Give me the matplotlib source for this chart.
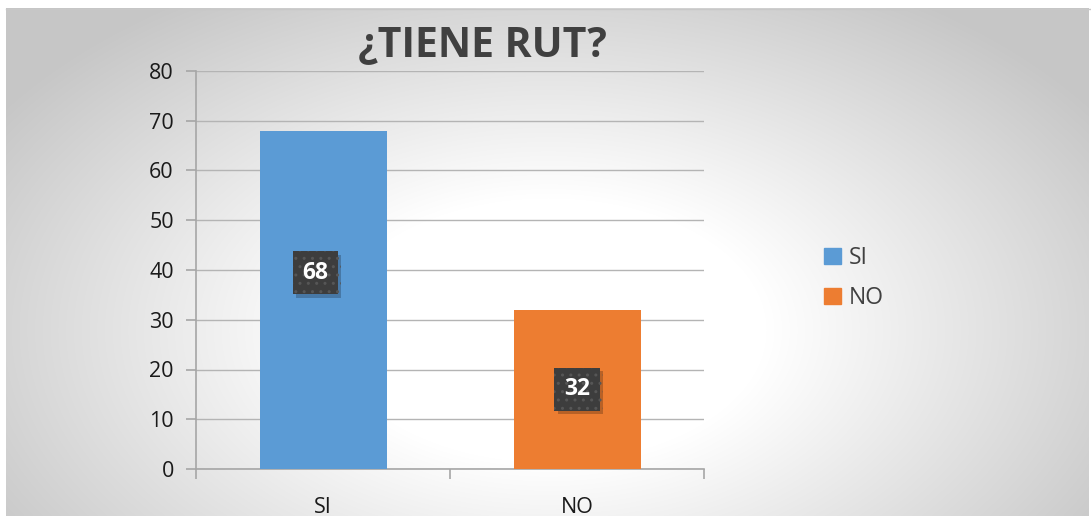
import numpy as np
import matplotlib.pyplot as plt
from matplotlib.patches import Rectangle
import matplotlib.patheffects as pe

categorias = ["SI", "NO"]
valores = [68, 32]
colores = ["#5B9BD5", "#ED7D31"]
# posicion de las etiquetas (fraccion de la barra), la de SI fue movida a mano
pos_etiqueta = [0.58, 0.5]
desp_etiqueta = [-0.03, 0.0]
yticks = list(range(0, 90, 10))

plt.rcParams['font.family'] = ['Open Sans', 'DejaVu Sans']

fig = plt.figure(figsize=(10.91, 5.16), dpi=100)

# Fondo con degradado radial
fondo = fig.add_axes([0, 0, 1, 1], zorder=-10)
H, W = 516, 1091
yy, xx = np.mgrid[0:H, 0:W]
dx = (xx - 548) / 545.0
dy = (yy - 330) / 330.0
r = np.sqrt(dx**2 + dy**2)
v = 1 - 0.22 * np.clip((r - 0.4) / 0.8, 0, 1)
img = np.dstack([v, v, v])
img[:8, :] = 1.0
img[:, :6] = 1.0
img[:, 1089:] = 1.0
fondo.imshow(img, extent=[0, 1, 0, 1], aspect='auto', origin='upper')
fondo.plot([6 / W, 1], [1 - 8.5 / H, 1 - 8.5 / H], color="#c8c8c8", lw=1)
fondo.set_xlim(0, 1)
fondo.set_ylim(0, 1)
fondo.axis('off')

ax = fig.add_axes([196 / W, 1 - 469 / H, 508 / W, 398 / H])
ax.patch.set_alpha(0)
x = np.arange(len(categorias))
ax.bar(x, valores, width=0.5, color=colores, zorder=3)
ax.set_xlim(-0.5, 1.5)
ax.set_ylim(0, 80)
ax.set_yticks(yticks)
ax.yaxis.grid(True, color="#b4b4b4", lw=1, zorder=0)
ax.set_xticks([-0.5, 0.5, 1.5])
ax.set_xticklabels([])
ax.set_xticks(x, minor=True)
ax.set_xticklabels(categorias, minor=True, fontsize=15.5, color="#1a1a1a")
ax.tick_params(axis='x', which='major', length=7, color="#a6a6a6", width=1.2)
ax.tick_params(axis='x', which='minor', length=0, pad=20)
ax.tick_params(axis='y', length=7, color="#a6a6a6", width=1.2, labelsize=15.5,
               labelcolor="#1a1a1a", pad=9)
for lado in ["top", "right"]:
    ax.spines[lado].set_visible(False)
for lado in ["left", "bottom"]:
    ax.spines[lado].set_color("#a6a6a6")
    ax.spines[lado].set_linewidth(1.2)

# Etiquetas de datos en cajas oscuras con puntos y sombra
for i, val in enumerate(valores):
    xe = x[i] + desp_etiqueta[i]
    ye = val * pos_etiqueta[i]
    t = ax.text(xe, ye, str(val), ha='center', va='center', fontsize=16.5, fontweight='bold',
                color='white', zorder=6,
                bbox=dict(boxstyle='square,pad=0.42', fc='#3d3d3d', ec='#565656', lw=0, hatch='..'))
    t.get_bbox_patch().set_path_effects([
        pe.SimplePatchShadow(offset=(2.5, -2.5), shadow_rgbFace='black', alpha=0.22),
        pe.Normal()])

fig.text(482 / W, 1 - 46 / H, "¿TIENE RUT?", ha='center', va='center', fontsize=29.5,
         fontweight='bold', color="#404040")

manijas = [Rectangle((0, 0), 1, 1, color=c) for c in colores]
fig.legend(manijas, categorias, loc='center left', bbox_to_anchor=(803 / W, 1 - 278 / H),
           frameon=False, fontsize=16.5, handlelength=0.75, handleheight=0.75,
           handletextpad=0.35, labelspacing=0.7, labelcolor="#404040")

plt.savefig("out.png", dpi=100)
